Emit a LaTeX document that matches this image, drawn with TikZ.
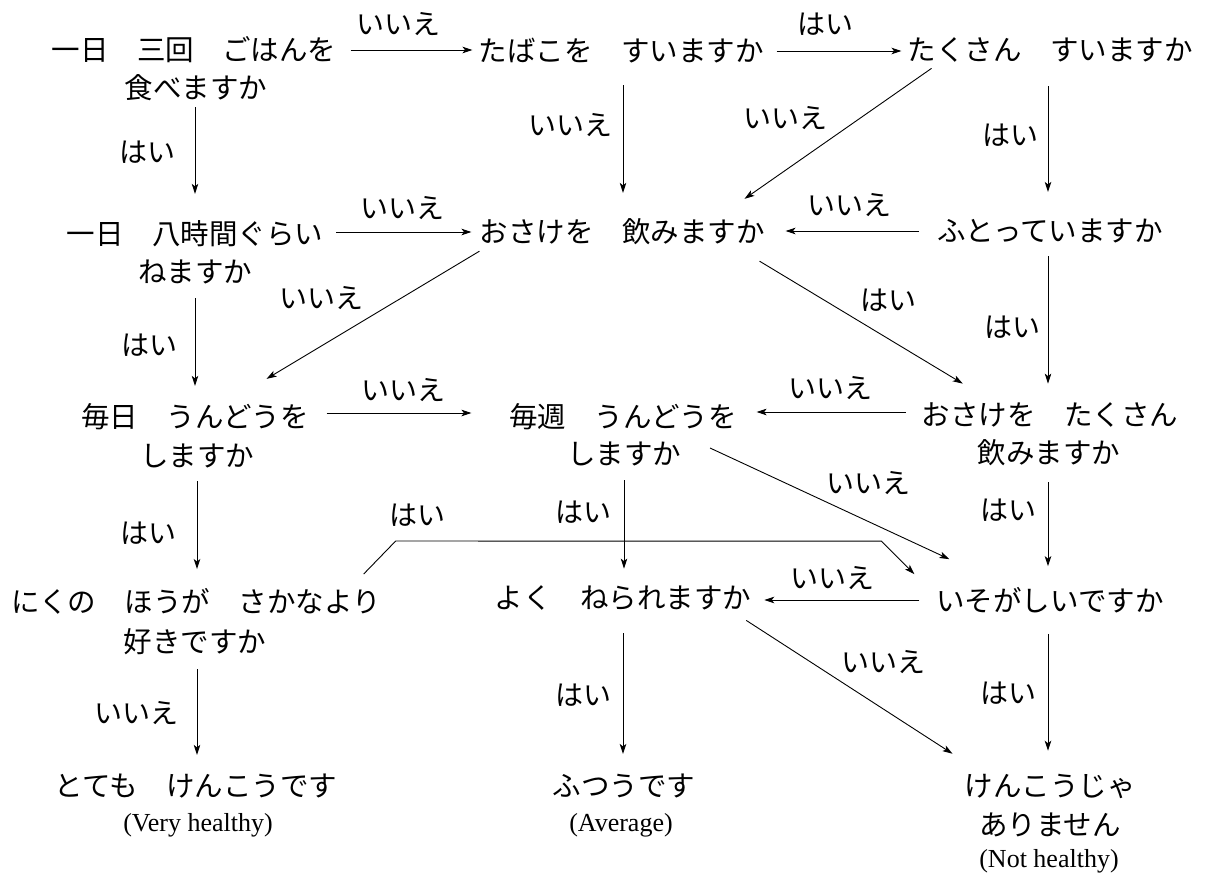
\documentclass[tikz,border=0pt]{standalone}
\usepackage{fontspec}
\setmainfont{Liberation Serif}
\newfontfamily\jp{Noto Sans CJK JP}
\usetikzlibrary{arrows.meta,calc}
\begin{document}
\begin{tikzpicture}[x=1pt,y=-1pt,
  q/.style={font=\jp\fontsize{28.5}{30}\selectfont, inner sep=0pt, outer sep=0pt},
  lab/.style={font=\jp\fontsize{28}{30}\selectfont, inner sep=0pt},
  en/.style={font=\fontsize{26}{28}\selectfont, inner sep=0pt},
  arr/.style={-{Stealth[length=10pt,width=6.5pt,inset=2.5pt]}, line width=0.9pt}]
\fill[white] (0,0) rectangle (1205,875);
\useasboundingbox (0,0) rectangle (1205,875);
% questions
\node[q] (A1) at (194,50) {一日　三回　ごはんを};
\node[q] (A2) at (196,88) {食べますか};
\node[q] (B)  at (621,51) {たばこを　すいますか};
\node[q] (C)  at (1050,50) {たくさん　すいますか};
\node[q] (D1) at (195,234) {一日　八時間ぐらい};
\node[q] (D2) at (195,272) {ねますか};
\node[q] (E)  at (622,232) {おさけを　飲みますか};
\node[q] (F)  at (1050,231) {ふとっていますか};
\node[q] (G1) at (195,417) {毎日　うんどうを};
\node[q] (G2) at (197,456) {しますか};
\node[q] (H1) at (623,417) {毎週　うんどうを};
\node[q] (H2) at (624,454) {しますか};
\node[q] (I1) at (1050,415) {おさけを　たくさん};
\node[q] (I2) at (1049,453) {飲みますか};
\node[q] (J1) at (196,601) {にくの　ほうが　さかなより};
\node[q] (J2) at (195,642) {好きですか};
\node[q] (L)  at (623,598) {よく　ねられますか};
\node[q] (K)  at (1050,600) {いそがしいですか};
% results
\node[q] (M1) at (196,786) {とても　けんこうです};
\node[en] (M2) at (198,825) {(Very healthy)};
\node[q] (O1) at (624,786) {ふつうです};
\node[en] (O2) at (621,825) {(Average)};
\node[q] (N1) at (1050,786) {けんこうじゃ};
\node[q] (N2) at (1050,825) {ありません};
\node[en] (N3) at (1049,861) {(Not healthy)};
% horizontal connectors
\draw[arr, shorten <=14pt, shorten >=6pt] (A1.east) -- (A1.east -| B.west);
\draw[arr, shorten <=13pt, shorten >=6pt] (B.east) -- (B.east -| C.west);
\draw[arr, shorten <=13pt, shorten >=8pt] (E.west -| D1.east) -- (E.west);
\draw[arr, shorten <=18pt, shorten >=21pt] (F.west) -- (F.west -| E.east);
\draw[arr, shorten <=18pt, shorten >=38pt] ([yshift=4pt]G1.east) -- ([yshift=4pt]G1.east -| H1.west);
\draw[arr, shorten <=16pt, shorten >=20pt] ([yshift=3pt]I1.west) -- ([yshift=3pt]I1.west -| H1.east);
\draw[arr, shorten <=17pt, shorten >=13pt] (K.west) -- (K.west -| L.east);
% vertical connectors
\draw[arr, shorten <=6pt, shorten >=27pt] ([xshift=-1pt]A2.south) -- ([xshift=-1pt]A2.south |- D1.north);
\draw[arr, shorten <=22pt, shorten >=26pt] ([xshift=2pt]B.south) -- ([xshift=2pt]B.south |- E.north);
\draw[arr, shorten <=24pt, shorten >=27pt] ([xshift=-2pt]C.south) -- ([xshift=-2pt]C.south |- F.north);
\draw[arr, shorten <=14pt, shorten >=18pt] (D2.south) -- (D2.south |- G1.north);
\draw[arr, shorten <=13pt, shorten >=19pt] ([xshift=-2pt]F.south) -- ([xshift=-2pt]F.south |- I1.north);
\draw[arr, shorten <=13pt, shorten >=19pt] (G2.south) -- (G2.south |- J1.north);
\draw[arr, shorten <=14pt, shorten >=17pt] (H2.south) -- (H2.south |- L.north);
\draw[arr, shorten <=16pt, shorten >=21pt] ([xshift=-1pt]I2.south) -- ([xshift=-1pt]I2.south |- K.north);
\draw[arr, shorten <=14pt, shorten >=19pt] ([xshift=2pt]J2.south) -- ([xshift=2pt]J2.south |- M1.north);
\draw[arr, shorten <=23pt, shorten >=20pt] (L.south) -- (L.south |- O1.north);
\draw[arr, shorten <=21pt, shorten >=23pt] ([xshift=-2pt]K.south) -- ([xshift=-2pt]K.south |- N1.north);
% diagonal connectors
\draw[arr] ($(C.south west)+(24,6)$) -- ($(E.north east)+(-20,-20)$);
\draw[arr] ($(E.south west)+(0,6)$) -- ($(G1.north east)+(-42,-25)$);
\draw[arr] ($(E.south east)+(-5,16)$) -- ($(I1.north west)+(41,-19)$);
\draw[arr] ($(H2.east)+(29,-6)$) -- ($(K.north west)+(13,-28)$);
\draw[arr] ($(L.south east)+(-5,10)$) -- ($(N1.north west)+(-12,-20)$);
\coordinate (jout) at ($(J1.north east)+(-17,-14)$);
\coordinate (kin) at ($(K.north west)+(-22,-13)$);
\draw[arr] (jout) -- ++(32,-33) -- ($(kin)+(-33,-33)$) -- (kin);
% labels
\node[lab] (l1)  at (398,24)  {いいえ};
\node[lab] (l2)  at (825,24)  {はい};
\node[lab] (l3)  at (570,125) {いいえ};
\node[lab] (l4)  at (785,118) {いいえ};
\node[lab] (l5)  at (1010,135) {はい};
\node[lab] (l6)  at (147,152) {はい};
\node[lab] (l7)  at (402,208) {いいえ};
\node[lab] (l8)  at (849,205) {いいえ};
\node[lab] (l9)  at (149,345) {はい};
\node[lab] (l10) at (321,298) {いいえ};
\node[lab] (l11) at (888,300) {はい};
\node[lab] (l12) at (1012,327) {はい};
\node[lab] (l13) at (403,390) {いいえ};
\node[lab] (l14) at (830,388) {いいえ};
\node[lab] (l15) at (148,533) {はい};
\node[lab] (l16) at (583,512) {はい};
\node[lab] (l17) at (868,483) {いいえ};
\node[lab] (l18) at (1008,510) {はい};
\node[lab] (l19) at (417,515) {はい};
\node[lab] (l20) at (832,578) {いいえ};
\node[lab] (l21) at (136,713) {いいえ};
\node[lab] (l22) at (583,695) {はい};
\node[lab] (l23) at (883,662) {いいえ};
\node[lab] (l24) at (1008,693) {はい};
\end{tikzpicture}
\end{document}
